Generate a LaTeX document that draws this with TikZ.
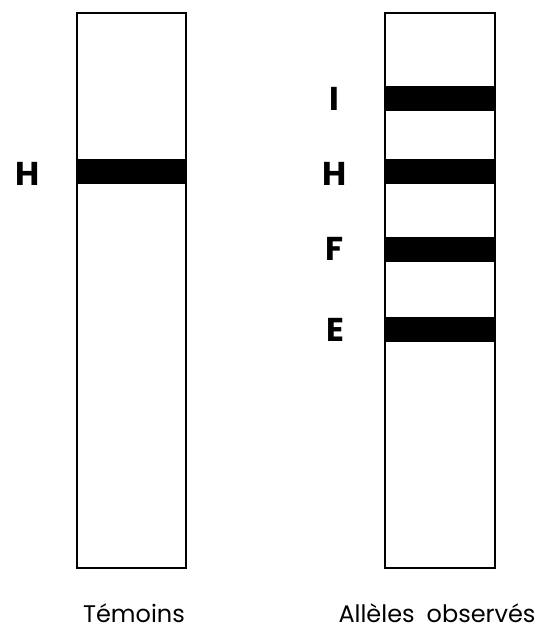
\documentclass[tikz,border=0pt]{standalone}
\usepackage{fontspec}
\setmainfont{Poppins}
\usepackage{tikz}

\begin{document}
\begin{tikzpicture}[x=1pt,y=-1pt, font=\fontsize{24}{28}\selectfont]
 \useasboundingbox (0,0) rectangle (558,631);
 \coordinate (T0) at (77,13);
 \coordinate (T1) at (186,568);
 \coordinate (O0) at (385,13);
 \coordinate (O1) at (495,568);
 \draw[line width=2.2pt] (T0) rectangle (T1);
 \draw[line width=2.2pt] (O0) rectangle (O1);
 % bandes
 \fill (77,159) rectangle (186,184);
 \foreach \y in {86,159,237,317}
   \fill (385,\y) rectangle (495,\y+25);
 \node[font=\fontsize{33}{36}\selectfont\bfseries] (hT) at (28,174) {H};
 \node[font=\fontsize{33}{36}\selectfont\bfseries] (iO) at (334,99) {I};
 \node[font=\fontsize{33}{36}\selectfont\bfseries] (hO) at (335,174) {H};
 \node[font=\fontsize{33}{36}\selectfont\bfseries] (fO) at (335,249) {F};
 \node[font=\fontsize{33}{36}\selectfont\bfseries] (eO) at (335,330) {E};
 \node (temoins) at (134,613) {Témoins};
 \node (alleles) at (437,613) {Allèles\enspace observés};
\end{tikzpicture}
\end{document}
